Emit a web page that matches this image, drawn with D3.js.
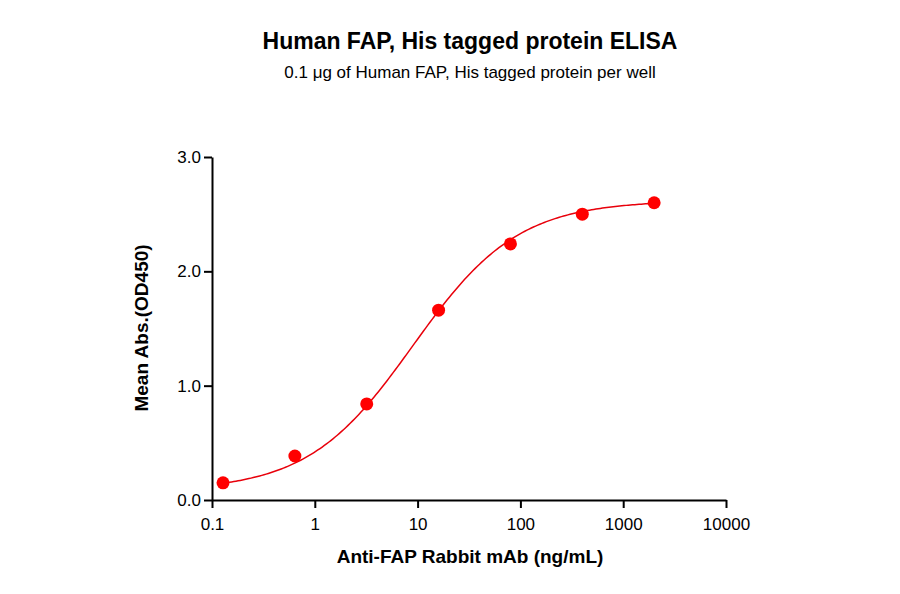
<!DOCTYPE html><html><head><script src="https://cdn.jsdelivr.net/npm/d3@7"></script>
<style>body{margin:0;background:#fff}text{font-family:Arial,"Liberation Sans",sans-serif}</style></head><body>
<svg id="c" width="900" height="594"></svg>
<script>
const concentrations=[0.128,0.64,3.2,16,80,400,2000];
const meanAbs=[0.15,0.385,0.84,1.66,2.24,2.50,2.60];
const xTicks=[0.1,1,10,100,1000,10000];
const yTicks=[0,1,2,3];
const fit={bottom:0.08,top:2.62,ec50:9,hill:0.85};
const svg=d3.select("#c");
const x=d3.scaleLog().domain([0.1,10000]).range([212,726]);
const y=d3.scaleLinear().domain([0,3]).range([500,157]);
svg.append("text").attr("x",470).attr("y",49).attr("text-anchor","middle").attr("font-size",23).attr("font-weight","bold").text("Human FAP, His tagged protein ELISA");
svg.append("text").attr("x",470).attr("y",78).attr("text-anchor","middle").attr("font-size",17).text("0.1 μg of Human FAP, His tagged protein per well");
const gx=svg.append("g").attr("transform","translate(0,500)").call(d3.axisBottom(x).tickValues(xTicks).tickFormat(d=>String(d)).tickSize(8).tickSizeOuter(0));
const gy=svg.append("g").attr("transform","translate(212,0)").call(d3.axisLeft(y).tickValues(yTicks).tickSize(8).tickSizeOuter(0));
[gx,gy].forEach(g=>{g.selectAll("path,line").attr("stroke","#000").attr("stroke-width",2);g.selectAll("text").attr("font-size",17).attr("fill","#000").style("font-family","Arial,'Liberation Sans',sans-serif");});
gx.selectAll("text").attr("dy","1.1em");
svg.append("text").attr("x",470).attr("y",563).attr("text-anchor","middle").attr("font-size",19).attr("font-weight","bold").text("Anti-FAP Rabbit mAb (ng/mL)");
svg.append("text").attr("transform","translate(148,328) rotate(-90)").attr("text-anchor","middle").attr("font-size",19).attr("font-weight","bold").text("Mean Abs.(OD450)");
const f=c=>fit.bottom+(fit.top-fit.bottom)*Math.pow(c/fit.ec50,fit.hill)/(1+Math.pow(c/fit.ec50,fit.hill));
const curve=d3.range(0,201).map(i=>{const c=Math.pow(10,Math.log10(0.128)+i/200*(Math.log10(2000)-Math.log10(0.128)));return [c,f(c)];});
svg.append("path").attr("d",d3.line().x(d=>x(d[0])).y(d=>y(d[1]))(curve)).attr("fill","none").attr("stroke","#e8000b").attr("stroke-width",1.5);
svg.selectAll("circle").data(concentrations).join("circle").attr("cx",d=>x(d)).attr("cy",(d,i)=>y(meanAbs[i])).attr("r",6.5).attr("fill","#f00");
</script></body></html>
